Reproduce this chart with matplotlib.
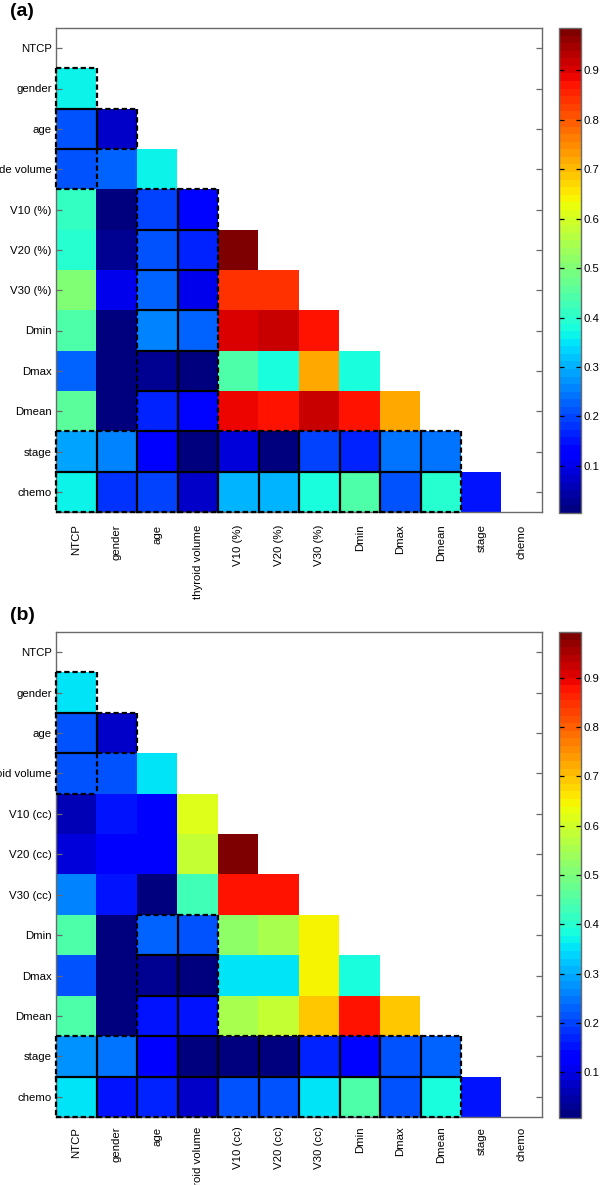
import numpy as np
import matplotlib
matplotlib.use("Agg")
import matplotlib.pyplot as plt
from matplotlib.collections import LineCollection
from collections import Counter

plt.rcParams['font.family'] = ['Liberation Sans', 'DejaVu Sans']

# ---------------- data ----------------
xlabels_a = ["NTCP", "gender", "age", "thyroid volume", "V10 (%)", "V20 (%)",
             "V30 (%)", "Dmin", "Dmax", "Dmean", "stage", "chemo"]
ylabels_a = ["NTCP", "gender", "age", "thyroide volume", "V10 (%)", "V20 (%)",
             "V30 (%)", "Dmin", "Dmax", "Dmean", "stage", "chemo"]
xlabels_b = ["NTCP", "gender", "age", "thyroid volume", "V10 (cc)", "V20 (cc)",
             "V30 (cc)", "Dmin", "Dmax", "Dmean", "stage", "chemo"]
ylabels_b = xlabels_b

# lower-triangle correlation values (row i holds columns 0..i-1)
corr_a = [
    [],
    [0.36],
    [0.21, 0.07],
    [0.21, 0.22, 0.36],
    [0.41, 0.02, 0.20, 0.14],
    [0.40, 0.03, 0.21, 0.17, 0.985],
    [0.50, 0.10, 0.22, 0.11, 0.845, 0.845],
    [0.44, 0.02, 0.25, 0.22, 0.905, 0.92, 0.877],
    [0.22, 0.005, 0.03, 0.01, 0.44, 0.38, 0.72, 0.38],
    [0.45, 0.01, 0.16, 0.14, 0.892, 0.873, 0.91, 0.87, 0.71],
    [0.29, 0.25, 0.12, 0.02, 0.09, 0.02, 0.20, 0.16, 0.235, 0.235],
    [0.36, 0.175, 0.19, 0.07, 0.30, 0.30, 0.38, 0.44, 0.21, 0.40, 0.15],
]
corr_b = [
    [],
    [0.36],
    [0.21, 0.07],
    [0.22, 0.21, 0.36],
    [0.06, 0.15, 0.12, 0.62],
    [0.09, 0.12, 0.12, 0.58, 0.993],
    [0.26, 0.15, 0.01, 0.43, 0.885, 0.885],
    [0.44, 0.01, 0.235, 0.22, 0.52, 0.55, 0.645],
    [0.21, 0.007, 0.03, 0.01, 0.35, 0.355, 0.645, 0.38],
    [0.44, 0.01, 0.16, 0.15, 0.55, 0.58, 0.69, 0.873, 0.69],
    [0.275, 0.25, 0.12, 0.01, 0.02, 0.02, 0.175, 0.14, 0.22, 0.235],
    [0.36, 0.16, 0.175, 0.07, 0.21, 0.22, 0.355, 0.44, 0.21, 0.38, 0.15],
]

# outlined (boxed) cells: (row, col)
outline_a = ([(1, 0), (2, 0), (2, 1), (3, 0)]
             + [(r, c) for r in range(4, 10) for c in (2, 3)]
             + [(r, c) for r in (10, 11) for c in range(10)])
outline_b = ([(1, 0), (2, 0), (2, 1), (3, 0)]
             + [(r, c) for r in range(7, 10) for c in (2, 3)]
             + [(r, c) for r in (10, 11) for c in range(10)])

cbar_ticks = [0.1, 0.2, 0.3, 0.4, 0.5, 0.6, 0.7, 0.8, 0.9]

# ---------------- figure ----------------
W, H = 600, 1185
fig = plt.figure(figsize=(W / 100, H / 100), dpi=100)


def px_rect(x0, y0, x1, y1):
    return [x0 / W, 1 - y1 / H, (x1 - x0) / W, (y1 - y0) / H]


cmap = plt.get_cmap('jet', 64).copy()
cmap.set_bad('white')
SPINE = '#6a6a6a'
FS = 8.2


def lower_matrix(rows):
    n = len(rows)
    M = np.full((n, n), np.nan)
    for i, r in enumerate(rows):
        M[i, :len(r)] = r
    return M


def outline_edges(cells):
    cnt = Counter()
    for r, c in cells:
        x0, x1, y0, y1 = c - 0.5, c + 0.5, r - 0.5, r + 0.5
        for e in (((x0, y0), (x1, y0)), ((x0, y1), (x1, y1)),
                  ((x0, y0), (x0, y1)), ((x1, y0), (x1, y1))):
            cnt[e] += 1
    solid = [e for e, k in cnt.items() if k > 1]
    dashed = [e for e, k in cnt.items() if k == 1]
    return solid, dashed


def panel(ax_px, cax_px, rows, xl, yl, cells, xpad):
    n = len(rows)
    ax = fig.add_axes(px_rect(*ax_px))
    M = lower_matrix(rows)
    vals = M[~np.isnan(M)]
    im = ax.imshow(np.ma.masked_invalid(M), cmap=cmap, vmin=vals.min(),
                   vmax=vals.max(), aspect='auto', interpolation='nearest')
    ax.set_xlim(-0.5, n - 0.5)
    ax.set_ylim(n - 0.5, -0.5)
    ax.set_yticks(range(n), yl)
    ax.set_xticks(range(n), xl, rotation=90)
    ax.set_xticks(range(1, n, 2), minor=True)
    ax.tick_params(axis='x', which='major', length=0, pad=xpad, labelsize=FS)
    ax.tick_params(axis='x', which='minor', direction='in', length=4,
                   top=True, bottom=True, color=SPINE, width=0.9)
    ax.tick_params(axis='y', which='major', direction='in', length=4,
                   left=True, right=True, color=SPINE, width=0.9,
                   labelsize=FS, pad=3)
    for sp in ax.spines.values():
        sp.set_color(SPINE)
        sp.set_linewidth(1.0)

    solid, dashed = outline_edges(cells)
    ax.add_collection(LineCollection(solid, colors='black', linewidths=1.6,
                                     zorder=4, clip_on=False, capstyle='projecting'))
    ax.add_collection(LineCollection(dashed, colors='black', linewidths=1.6,
                                     linestyles=(0, (2.4, 1.3)), zorder=4,
                                     clip_on=False))

    cax = fig.add_axes(px_rect(*cax_px))
    cb = fig.colorbar(im, cax=cax, ticks=cbar_ticks)
    cb.ax.set_yticklabels([f"{t:.1f}" for t in cbar_ticks])
    cb.outline.set_edgecolor(SPINE)
    cb.outline.set_linewidth(1.0)
    cax.yaxis.set_ticks_position('both')
    cax.tick_params(axis='y', direction='in', length=3.5, width=0.9,
                    color='black', labelsize=FS, pad=2, labelleft=False,
                    labelright=True)
    return ax


panel((56, 28, 542, 512), (559, 28, 581, 513), corr_a, xlabels_a, ylabels_a,
      outline_a, 9)
panel((56, 632, 542, 1117), (559, 632, 581, 1118), corr_b, xlabels_b, ylabels_b,
      outline_b, 7)

fig.text(10 / W, 1 - 12 / H, "(a)", fontsize=14, fontweight='bold', va='center')
fig.text(10 / W, 1 - 616 / H, "(b)", fontsize=14, fontweight='bold', va='center')

fig.savefig("out.png", dpi=100)
